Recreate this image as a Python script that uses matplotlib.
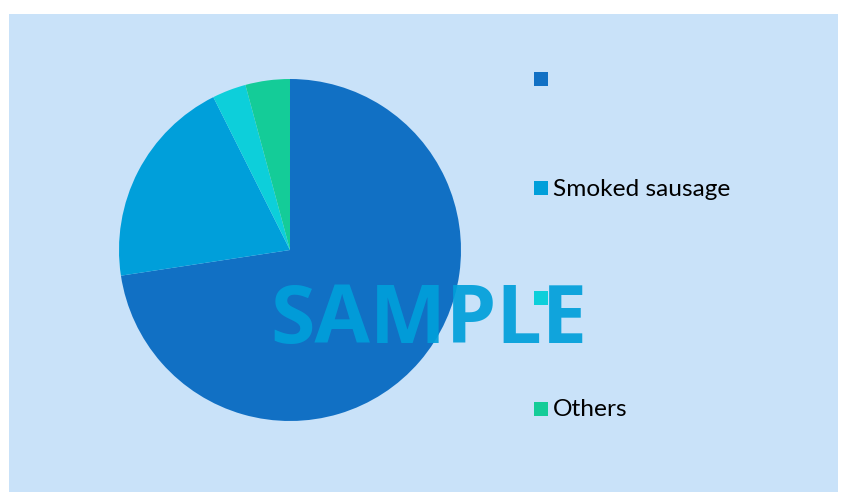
import matplotlib
matplotlib.use("Agg")
import matplotlib.pyplot as plt
from matplotlib.patches import Rectangle

labels = ["", "Smoked sausage", "", "Others"]
values = [72.6, 20.0, 3.2, 4.2]
colors = ["#1170C4", "#009FDA", "#0DCFDA", "#14CC98"]

W, H = 847, 494
fig = plt.figure(figsize=(W / 100, H / 100), dpi=100)
fig.patch.set_facecolor("white")

# background panel
fig.patches.append(Rectangle((9 / W, 1 - 492 / H), (838 - 9) / W, (492 - 14) / H,
                             transform=fig.transFigure, facecolor="#C9E2F9",
                             edgecolor="none", zorder=-5))

cx, cy, r = 290, 250, 171
ax = fig.add_axes([(cx - r) / W, (H - cy - r) / H, 2 * r / W, 2 * r / H])
ax.set_zorder(1)
ax.set_facecolor("none")
wedges, _ = ax.pie(values, colors=colors, startangle=90, counterclock=False,
                   radius=1, wedgeprops=dict(linewidth=0))
ax.set_xlim(-1, 1)
ax.set_ylim(-1, 1)
ax.set_aspect("auto")
ax.axis("off")

# watermark
fig.text(429 / W, 1 - 322 / H, "SAMPLE", fontsize=58, fontweight="bold",
         family="Open Sans", color="#009FDA", alpha=0.92,
         ha="center", va="center", zorder=5)

# legend
ys = [79, 188, 298, 409]
for lab, col, y in zip(labels, colors, ys):
    fig.patches.append(Rectangle((534 / W, 1 - (y + 7) / H), 14 / W, 14 / H,
                                 transform=fig.transFigure, facecolor=col,
                                 edgecolor="none", zorder=10))
    fig.text(553 / W, 1 - (y + 1) / H, lab, fontsize=17.6, family="Lato",
             color="black", ha="left", va="center", zorder=10)

fig.savefig("out.png", dpi=100, facecolor="white")
